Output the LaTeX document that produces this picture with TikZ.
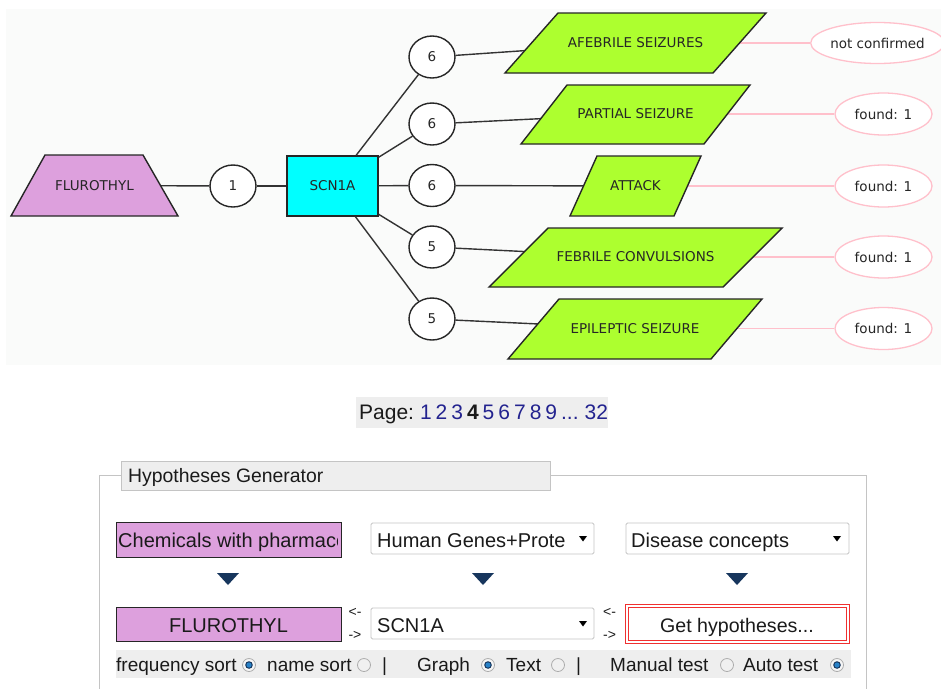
\documentclass[tikz,border=0pt]{standalone}
\usepackage{fontspec}
\setmainfont{Liberation Sans}
\newfontfamily\gfont{DejaVu Sans}
\usetikzlibrary{shapes.geometric,calc}
\definecolor{plumc}{HTML}{DDA0DD}
\definecolor{cyanc}{HTML}{00FFFF}
\definecolor{greenc}{HTML}{ADFF2F}
\definecolor{pinkc}{HTML}{FFC0CB}
\definecolor{graphbg}{HTML}{FAFBFA}
\definecolor{panelbg}{HTML}{EEEEEE}
\definecolor{framec}{HTML}{C4C4C4}
\definecolor{navyc}{HTML}{17365D}
\definecolor{linkc}{HTML}{23238F}
\definecolor{txtc}{HTML}{1A1A1A}
\definecolor{redc}{HTML}{F03030}
\definecolor{radioblue}{HTML}{2882C8}
\tikzset{
  gtext/.style={font=\gfont\fontsize{13.5}{16}\selectfont, text=black!85},
  btext/.style={font=\fontsize{19}{22}\selectfont, text=txtc},
  bbtext/.style={font=\fontsize{20}{23}\selectfont, text=txtc},
  edge/.style={draw=black!80, line width=1.4pt},
  pedge/.style={draw=pinkc, line width=1.3pt},
  shapeline/.style={draw=black!85, line width=1.4pt, line join=miter},
  numnode/.style={ellipse, draw=black!85, line width=1.4pt, fill=white, minimum width=46pt, minimum height=42pt, inner sep=0pt, gtext},
  paraf/.style={shapeline, fill=greenc},
  resnode/.style={ellipse, draw=pinkc, line width=1.3pt, fill=white, minimum height=42pt, inner sep=0pt, gtext},
  combo/.style={draw=framec, fill=white, rounded corners=1.5pt, line width=0.8pt},
  plumbox/.style={draw=black!85, fill=plumc, line width=1pt},
  navytri/.style={fill=navyc},
  radiooff/.pic={\draw[draw=gray!65, fill=gray!12, line width=0.8pt] (0,0) circle (6.5pt);},
  radioon/.pic={\draw[draw=gray!65, fill=gray!8, line width=0.8pt] (0,0) circle (6.5pt);
                \fill[navyc] (0,0) circle (3.8pt);
                \fill[radioblue] (0,0) circle (2.6pt);},
}
\begin{document}
\begin{tikzpicture}[x=1pt,y=-1pt]
\clip (0,0) rectangle (941,688);
\fill[white] (0,0) rectangle (941,688);
% graph background
\fill[graphbg] (6,9) rectangle (941,365);

% centres of the drawn shapes
\coordinate (fluc) at (94.5,185.5);
\coordinate (p1c) at (635.5,43);
\coordinate (p2c) at (635.5,114);
\coordinate (p3c) at (635.5,186);
\coordinate (p4c) at (635.5,257);
\coordinate (p5c) at (635,328.5);

% node shapes that clip connectors
\node[numnode] (c0) at (233,186) {1};
\node[draw=black!85, line width=1.4pt, fill=cyanc, minimum width=91pt, minimum height=60pt, inner sep=0pt, gtext] (scn) at (332.5,186) {SCN1A};
\node[numnode] (c1) at (432,57) {6};
\node[numnode] (c2) at (432,124) {6};
\node[numnode] (c3) at (432,185.5) {6};
\node[numnode] (c4) at (432,247) {5};
\node[numnode] (c5) at (432,319) {5};

\node[resnode, minimum width=125pt, minimum height=41pt] (r1) at (877.5,43) {not confirmed};
\node[resnode, minimum width=97pt] (r2) at (883.5,114) {found: 1};
\node[resnode, minimum width=97pt] (r3) at (883.5,186) {found: 1};
\node[resnode, minimum width=97pt] (r4) at (883.5,257) {found: 1};
\node[resnode, minimum width=97pt] (r5) at (883.5,328.5) {found: 1};

% graph edges (the shapes drawn afterwards cover their inner ends)
\draw[edge] (fluc) -- (c0);
\draw[edge] (c0) -- (scn);
\foreach \i in {1,...,5}{
  \draw[edge] (scn) -- (c\i);
  \draw[edge] (c\i) -- (p\i c);
  \draw[pedge] (p\i c) -- (r\i);
}

% FLUROTHYL trapezoid and disease parallelograms
\draw[shapeline, fill=plumc] (11,216) -- (178,216) -- (143,155) -- (45,155) -- cycle;
\node[gtext, inner sep=0pt] (flu) at (fluc) {FLUROTHYL};
\draw[paraf] (505,73) -- (713,73) -- (766,13) -- (558,13) -- cycle;
\node[gtext, inner sep=0pt] (p1) at (p1c) {AFEBRILE SEIZURES};
\draw[paraf] (521,144) -- (704,144) -- (750,85) -- (567,85) -- cycle;
\node[gtext, inner sep=0pt] (p2) at (p2c) {PARTIAL SEIZURE};
\draw[paraf] (570,216) -- (674,216) -- (701,156) -- (597,156) -- cycle;
\node[gtext, inner sep=0pt] (p3) at (p3c) {ATTACK};
\draw[paraf] (489,287) -- (723,287) -- (782,228) -- (548,228) -- cycle;
\node[gtext, inner sep=0pt] (p4) at (p4c) {FEBRILE CONVULSIONS};
\draw[paraf] (508,359) -- (711,359) -- (762,299) -- (559,299) -- cycle;
\node[gtext, inner sep=0pt] (p5) at (p5c) {EPILEPTIC SEIZURE};

% page bar
\fill[panelbg] (356,397) rectangle (608,428);
\node[font=\fontsize{21}{24}\selectfont, text=txtc, anchor=base west, inner sep=0pt] (pages) at (359,419)
  {\spaceskip=4pt Page: {\color{linkc}1 2 3} \textbf{4} {\color{linkc}5 6 7 8 9 ... 32}};

% hypotheses generator fieldset
\draw[framec, line width=0.9pt] (99,700) -- (99,475) -- (866,475) -- (866,700);
\node[draw=framec, fill=panelbg, line width=0.8pt, minimum width=429pt, minimum height=29pt, inner sep=0pt] (legend) at (335.5,475.5) {};
\node[font=\fontsize{19.4}{22}\selectfont, text=txtc, anchor=base west, inner sep=0pt] (legendtxt) at (128,482) {Hypotheses Generator};

% row 1
\draw[plumbox] (116,522) rectangle (341,557);
\begin{scope}
  \clip (117,523) rectangle (337,556);
  \node[bbtext, anchor=base west, inner sep=0pt] (chem) at (118,547) {Chemicals with pharmacology};
\end{scope}
\draw[combo] (371,523) rectangle (594,554);
\begin{scope}
  \clip (372,524) rectangle (564,553);
  \node[bbtext, anchor=base west, inner sep=0pt] (genes) at (377,547) {Human Genes+Proteins};
\end{scope}
\fill[black] (579,536) -- (587,536) -- (583,541.5) -- cycle;
\draw[combo] (626,523) rectangle (849,554);
\node[bbtext, anchor=base west, inner sep=0pt] (dis) at (631,547) {Disease concepts};
\fill[black] (833,536) -- (841,536) -- (837,541.5) -- cycle;

% navy triangles
\foreach \x in {228,483,737}{
  \fill[navytri] (\x-11,573) -- (\x+11,573) -- (\x,585) -- cycle;
}

% row 2
\draw[plumbox] (116,607) rectangle (341,641);
\node[bbtext, anchor=base, inner sep=0pt] (flu2) at (228.5,632) {FLUROTHYL};
\node[font=\fontsize{14}{16}\selectfont, text=txtc, inner sep=0pt] (la1) at (355,612) {<-};
\node[font=\fontsize{14}{16}\selectfont, text=txtc, inner sep=0pt] (ra1) at (355,635) {->};
\draw[combo] (371,608) rectangle (594,639);
\node[bbtext, anchor=base west, inner sep=0pt] (scn2) at (377,632) {SCN1A};
\fill[black] (579,621) -- (587,621) -- (583,626.5) -- cycle;
\node[font=\fontsize{14}{16}\selectfont, text=txtc, inner sep=0pt] (la2) at (609.5,612) {<-};
\node[font=\fontsize{14}{16}\selectfont, text=txtc, inner sep=0pt] (ra2) at (609.5,635) {->};
\draw[redc, line width=1pt, fill=white] (625,604) rectangle (849,643);
\draw[redc, line width=1pt] (628,607) rectangle (846,640);
\node[font=\fontsize{19.6}{22}\selectfont, text=txtc, anchor=base, inner sep=0pt] (geth) at (737,632) {Get hypotheses...};

% row 3
\fill[panelbg] (116,650) rectangle (851,678);
\node[btext, anchor=base west, inner sep=0pt] (fs) at (116,671) {frequency sort};
\pic at (249,665) {radioon};
\node[btext, anchor=base west, inner sep=0pt] (ns) at (267,671) {name sort};
\pic at (364,665) {radiooff};
\node[btext, anchor=base west, inner sep=0pt] (sep1) at (382,671) {|};
\node[btext, anchor=base west, inner sep=0pt] (gr) at (417,671) {Graph};
\pic at (488,665) {radioon};
\node[btext, anchor=base west, inner sep=0pt] (tx) at (506,671) {Text};
\pic at (558,665) {radiooff};
\node[btext, anchor=base west, inner sep=0pt] (sep2) at (576,671) {|};
\node[btext, anchor=base west, inner sep=0pt] (mt) at (610,671) {Manual test};
\pic at (727,665) {radiooff};
\node[btext, anchor=base west, inner sep=0pt] (at) at (743,671) {Auto test};
\pic at (837,665) {radioon};
\end{tikzpicture}
\end{document}
